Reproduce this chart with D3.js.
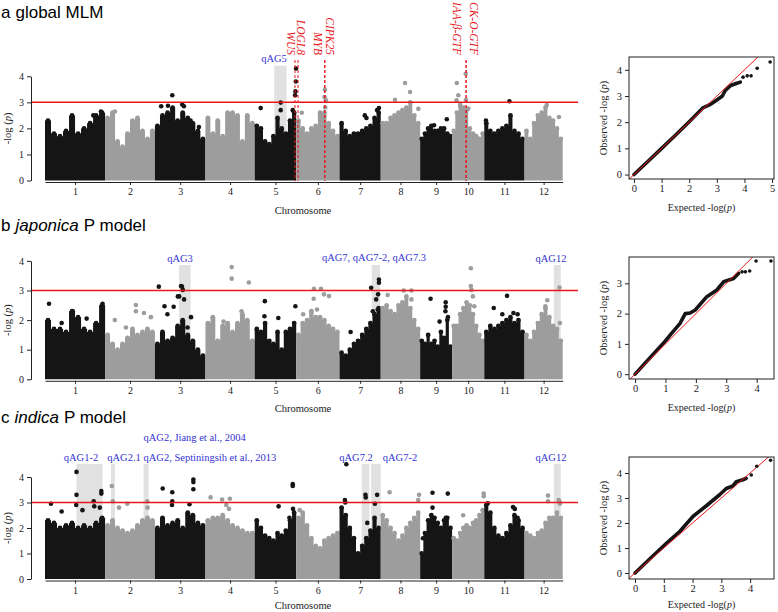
<!DOCTYPE html>
<html>
<head>
<meta charset="utf-8">
<script src="https://cdn.jsdelivr.net/npm/d3@7"></script>
<style>
  body { margin: 0; background: #fff; }
  svg { display: block; font-family: "Liberation Serif", "Times New Roman", serif; }
</style>
</head>
<body>
<svg id="chart" width="778" height="612"></svg>
<script>
// chromosome names and lengths (Mb)
var chromosomes = ["1", "2", "3", "4", "5", "6", "7", "8", "9", "10", "11", "12"];
var chrLength = [43.3, 35.9, 36.4, 35.5, 29.9, 31.2, 29.7, 28.4, 23.0, 23.2, 29.0, 27.5];
var yTicks = [0, 1, 2, 3, 4];
var threshold = 3;

// upper edge of the dense cloud, 10 bins per chromosome (-log p)
var globalEnv = [
  [2.3, 1.8, 1.7, 1.9, 2.5, 1.8, 2.0, 2.2, 2.5, 2.6],
  [2.4, 2.6, 1.5, 1.3, 1.8, 2.3, 2.4, 1.9, 1.6, 1.9],
  [2.1, 2.5, 2.6, 2.8, 2.3, 2.6, 2.4, 2.2, 1.9, 1.6],
  [2.4, 1.8, 2.3, 1.7, 2.6, 2.6, 2.5, 1.5, 2.5, 2.2],
  [2.1, 2.0, 1.5, 1.4, 1.7, 2.4, 2.0, 1.8, 2.3, 2.6],
  [2.3, 2.0, 1.8, 2.0, 2.1, 2.6, 2.6, 2.2, 1.9, 1.7],
  [2.2, 1.9, 1.7, 1.8, 1.8, 1.9, 2.0, 2.1, 2.4, 2.6],
  [2.2, 2.2, 2.4, 2.5, 2.6, 2.7, 2.8, 3.0, 2.5, 2.2],
  [1.6, 1.8, 2.0, 2.1, 1.9, 1.9, 2.0, 2.0, 1.8, 1.7],
  [1.9, 2.6, 2.9, 2.8, 2.7, 2.0, 1.8, 1.7, 1.6, 1.8],
  [2.2, 1.9, 1.8, 1.9, 2.0, 2.1, 2.5, 1.9, 1.8, 1.6],
  [1.9, 1.6, 2.2, 2.5, 2.6, 2.8, 2.4, 2.3, 2.0, 1.6]
];
// single markers standing out: [chromosome, Mb, -log p]
var globalPeaks = [
  [1, 34.8, 2.5], [1, 40.3, 2.65], [2, 7.1, 2.65], [3, 4.5, 2.85], [3, 9.4, 2.87],
  [3, 12.5, 3.27], [3, 19.7, 2.92], [3, 20.9, 2.85], [3, 25.7, 2.3], [3, 31.7, 2.05],
  [5, 4.3, 2.78], [5, 18.7, 2.99], [5, 18.7, 2.7], [5, 27.4, 2.7], [5, 29.3, 3.42],
  [5, 29.1, 3.27], [5, 29.8, 4.3], [5, 29.6, 3.8], [6, 4.0, 2.6], [6, 20.7, 3.49],
  [6, 21.4, 3.08], [6, 20.4, 3.2], [6, 20.9, 2.8], [7, 18.2, 2.5], [7, 19.4, 2.4],
  [7, 27.1, 2.7], [7, 28.4, 2.78], [8, 10.3, 3.1], [8, 17.5, 3.74], [8, 21.1, 3.4],
  [8, 27.1, 2.75], [9, 10.0, 2.12], [9, 19.2, 2.35], [10, 3.4, 3.74], [10, 4.5, 3.27],
  [10, 3.2, 3.08], [10, 6.2, 2.82], [10, 9.8, 4.1], [10, 10.0, 3.1], [10, 11.7, 2.76],
  [11, 1.2, 2.3], [11, 18.1, 3.04], [12, 16.0, 2.9], [12, 24.8, 2.44]
];

var japonicaEnv = [
  [2.0, 1.7, 1.7, 1.6, 2.3, 2.1, 1.7, 1.6, 1.9, 2.5],
  [1.5, 1.2, 1.0, 1.2, 1.4, 1.7, 1.5, 1.6, 1.7, 1.6],
  [1.2, 1.6, 1.3, 1.4, 1.8, 2.0, 1.5, 1.3, 1.0, 0.8],
  [1.9, 2.1, 1.3, 1.8, 1.9, 1.6, 1.9, 2.2, 2.0, 1.3],
  [1.7, 1.6, 1.9, 1.3, 1.2, 1.6, 1.0, 1.6, 1.7, 1.9],
  [1.5, 1.9, 2.0, 2.3, 2.1, 2.1, 2.0, 1.8, 1.7, 1.6],
  [0.9, 0.8, 1.0, 1.2, 1.3, 1.5, 1.7, 1.9, 2.2, 2.4],
  [2.4, 2.5, 2.3, 2.2, 2.5, 2.6, 2.8, 2.4, 2.0, 1.7],
  [1.3, 1.2, 1.5, 1.2, 1.3, 1.1, 1.6, 1.4, 2.0, 1.1],
  [1.8, 1.8, 2.2, 2.4, 2.6, 2.5, 2.2, 1.8, 1.5, 1.3],
  [1.6, 1.8, 1.7, 1.8, 1.9, 2.0, 2.1, 1.9, 2.0, 1.6],
  [1.5, 1.3, 1.6, 1.9, 2.2, 2.4, 2.1, 1.8, 1.7, 1.3]
];
var japonicaPeaks = [
  [1, 2.9, 2.55], [1, 20, 2.3], [1, 41.5, 2.55], [1, 12, 1.9], [1, 30, 2.05],
  [2, 7, 2.0], [2, 22.2, 2.51], [2, 22.2, 2.3], [2, 28, 2.24], [2, 33, 2.1], [2, 15, 1.75],
  [3, 2.8, 3.13], [3, 6.9, 2.47], [3, 9, 2.2], [3, 13.5, 2.45], [3, 16.5, 2.8], [3, 17.5, 2.8],
  [3, 18.8, 3.15], [3, 19.5, 3.13], [3, 20.1, 3.02], [3, 21, 2.7], [3, 26, 2.1], [3, 23.5, 1.75],
  [4, 18.9, 3.79], [4, 18.9, 3.4], [4, 31.3, 3.27], [4, 13, 1.95], [4, 26, 2.3],
  [5, 7.3, 2.64], [5, 7, 2.13], [5, 17, 2.07], [5, 29.3, 2.47],
  [6, 12.8, 3.06], [6, 12.6, 2.72], [6, 17.8, 3.06], [6, 15, 2.36], [6, 20, 2.87], [6, 23.6, 2.81], [6, 5, 2.2],
  [7, 22.8, 3.09], [7, 28.4, 3.37], [7, 28.4, 3.26], [7, 27.8, 2.87], [7, 26.4, 2.7], [7, 27.5, 2.36], [7, 24, 2.3], [7, 8, 1.6],
  [8, 16.6, 3.0], [8, 22.1, 3.0], [8, 5, 2.85], [8, 22.1, 2.7],
  [9, 7.5, 2.72], [9, 18.4, 2.6], [9, 18.4, 2.45], [9, 18.2, 2.3], [9, 14, 1.95], [9, 20, 2.1],
  [10, 13.5, 3.75], [10, 13.5, 3.15], [10, 14, 3.02], [10, 15, 2.8], [10, 16, 2.47],
  [11, 6.8, 2.41], [11, 16.4, 2.82], [11, 13, 2.2], [11, 21, 2.24], [11, 24, 2.2],
  [12, 16.4, 2.67], [12, 15, 2.47], [12, 25.2, 3.1], [12, 25.5, 1.9]
];

var indicaEnv = [
  [2.3, 2.2, 2.0, 2.1, 2.2, 2.0, 2.1, 2.0, 2.2, 2.4],
  [2.1, 2.3, 2.0, 1.9, 1.8, 1.9, 2.1, 2.3, 2.4, 2.3],
  [2.0, 2.4, 2.1, 2.2, 2.3, 2.0, 2.6, 2.5, 2.2, 2.1],
  [2.3, 2.4, 2.4, 2.5, 2.3, 2.1, 2.0, 1.9, 1.8, 1.8],
  [2.3, 2.0, 1.7, 1.6, 1.5, 1.8, 1.7, 1.9, 2.3, 2.6],
  [2.4, 2.6, 2.1, 1.6, 1.3, 1.2, 1.5, 1.6, 1.7, 1.8],
  [2.8, 2.5, 2.0, 1.6, 1.0, 1.3, 1.6, 1.9, 2.4, 2.0],
  [2.5, 2.3, 2.0, 1.8, 1.5, 1.7, 2.0, 2.2, 2.4, 2.6],
  [1.0, 1.8, 2.3, 2.5, 2.4, 2.2, 2.0, 2.3, 2.4, 2.0],
  [1.6, 1.5, 1.8, 2.0, 2.1, 2.0, 2.2, 2.3, 2.5, 2.7],
  [2.9, 2.6, 2.0, 1.7, 1.6, 1.8, 2.1, 2.5, 2.3, 2.0],
  [1.8, 1.7, 1.6, 1.8, 1.9, 2.2, 2.4, 2.4, 2.6, 2.4]
];
var indicaPeaks = [
  [1, 4.3, 2.95], [1, 22.7, 4.2], [1, 22.7, 3.3], [1, 22.5, 2.9], [1, 35.1, 3.05], [1, 35.5, 2.85],
  [1, 40.6, 3.45], [1, 40.6, 3.35], [1, 39.5, 2.8], [1, 12, 2.65], [1, 27, 2.7],
  [2, 4.8, 3.65], [2, 5.5, 3.05], [2, 10, 2.8], [2, 16, 2.95], [2, 30.4, 3.05], [2, 30.6, 2.8],
  [3, 5.6, 3.55], [3, 12.5, 3.4], [3, 12.5, 3.05], [3, 12.3, 2.9], [3, 24.9, 2.93],
  [3, 27.7, 3.9], [3, 27.7, 3.8], [3, 27.7, 3.52],
  [4, 3.7, 3.2], [4, 12, 3.12], [4, 17.6, 3.15], [4, 15, 2.9], [4, 17, 2.75],
  [5, 17.2, 2.85], [5, 27.4, 3.72], [5, 27.4, 3.65], [5, 27.6, 2.75], [5, 25, 2.4],
  [6, 2.5, 2.7],
  [7, 4.9, 4.5], [7, 3.9, 3.1], [7, 4.2, 3.0], [7, 18.7, 3.3], [7, 18.9, 3.2], [7, 27.1, 3.3], [7, 25.5, 2.95], [7, 20, 2.2],
  [8, 6.4, 3.4], [8, 27.6, 3.3], [8, 27, 3.1],
  [9, 8.9, 3.38], [9, 8.9, 2.8], [9, 19.9, 3.35], [9, 2, 1.6], [9, 18.5, 2.4],
  [10, 22.8, 3.35], [10, 22.8, 3.25], [10, 8, 2.5],
  [11, 2.5, 2.97], [11, 20.7, 2.82], [11, 22, 2.75], [11, 24, 2.4],
  [12, 16.9, 3.27], [12, 16.9, 3.05], [12, 24.6, 3.1], [12, 25.1, 3.05], [12, 25.5, 2.95]
];

// QTL regions: [chromosome, startMb, endMb]
var globalRegions = [[5, 14.1, 23.0]];
var japonicaRegions = [[3, 17.4, 25.7], [7, 23.2, 29.2], [12, 21.1, 26.1]];
var indicaRegions = [[1, 22.7, 41.5], [2, 4.3, 7.1], [2, 27.7, 31.3], [7, 16.0, 21.5], [7, 22.8, 29.7], [12, 21.1, 26.1]];

// candidate genes: [name, chromosome, Mb]
var genes = [["WUS", 5, 29.0], ["LOGL8", 6, 1.3], ["MYB", 6, 20.6], ["CIPK25", 6, 20.6],
             ["IAA-\u03b2-GTF", 10, 10.1], ["CK-O-GTF", 10, 10.1]];

// QQ plots: [expected, observed]
var qqGlobal = [[0, 0], [0.5, 0.5], [1, 1], [1.5, 1.5], [2, 2.02], [2.5, 2.55], [2.8, 2.7], [3.0, 2.85],
                [3.2, 3.0], [3.3, 3.2], [3.5, 3.4], [3.7, 3.48], [3.85, 3.53]];
var qqGlobalTail = [[3.95, 3.72], [4.1, 3.77], [4.24, 3.77], [4.46, 4.06], [4.93, 4.3]];
var qqJaponica = [[0, 0], [0.5, 0.55], [0.93, 1.02], [1.2, 1.35], [1.48, 1.68], [1.65, 2.0], [1.81, 2.02],
                  [1.98, 2.12], [2.36, 2.56], [2.69, 2.78], [2.91, 3.05], [3.24, 3.16], [3.41, 3.33]];
var qqJaponicaTail = [[3.52, 3.38], [3.63, 3.38], [3.77, 3.41], [3.98, 3.74], [4.47, 3.74]];
var qqIndica = [[0, 0], [0.5, 0.55], [1.1, 1.2], [1.56, 1.67], [2.02, 2.27], [2.48, 2.69], [2.94, 3.13],
                [3.17, 3.38], [3.4, 3.48], [3.52, 3.65], [3.75, 3.73], [3.86, 3.79]];
var qqIndicaTail = [[4.04, 3.92], [4.23, 4.27], [4.71, 4.51]];

var svg = d3.select("#chart");
var RED = "#e8161c", BLUE = "#3434d2", BLACK = "#151515", GREY = "#9d9d9d", SHADE = "#e1e1e1";
var intFormat = d3.format("d");

// genome x scale shared by the three panels
var chrOffset = chrLength.map(function (d, i) { return d3.sum(chrLength.slice(0, i)); });
var x = d3.scaleLinear().domain([0, d3.sum(chrLength)]).range([45, 562.7]);
function gx(c, mb) { return x(chrOffset[c - 1] + mb); }
function colorOf(c) { return c % 2 ? BLACK : GREY; }

function title(y, parts) {
    var t = svg.append("text").attr("x", 1).attr("y", y)
        .style("font-family", "'Liberation Sans', Arial, sans-serif").style("font-size", "17px");
    parts.forEach(function (p, i) {
        t.append("tspan").attr("dx", i ? 5 : 0).style("font-style", p[1] ? "italic" : "normal").text(p[0]);
    });
}

function logpLabel(sel, txt) {
    sel.append("tspan").text(txt + "(");
    sel.append("tspan").style("font-style", "italic").text("p");
    sel.append("tspan").text(")");
}

function manhattan(p) {
    var g = svg.append("g");
    var y = d3.scaleLinear().domain([0, 4]).range([p.base, p.top4]);
    // QTL shading
    g.selectAll("rect.shade").data(p.regions).enter().append("rect")
        .attr("x", function (d) { return gx(d[0], d[1]); })
        .attr("width", function (d) { return gx(d[0], d[2]) - gx(d[0], d[1]); })
        .attr("y", p.shadeTop).attr("height", p.base - p.shadeTop)
        .attr("fill", SHADE);
    // dense marker clouds
    var area = d3.area().curve(d3.curveStep).x(function (d) { return gx(d.c, d.mb); })
        .y0(y(0)).y1(function (d) { return y(d.v); });
    p.env.forEach(function (vals, i) {
        var c = i + 1, n = vals.length, L = chrLength[i];
        var pts = vals.map(function (v, k) { return { c: c, mb: (k + 0.5) / n * L, v: v }; });
        var edge = [{ c: c, mb: 0, v: vals[0] }].concat(pts, [{ c: c, mb: L, v: vals[n - 1] }]);
        g.append("path").attr("d", area(edge)).attr("fill", colorOf(c));
        g.selectAll(null).data(pts).enter().append("circle")
            .attr("cx", function (d) { return gx(d.c, d.mb); })
            .attr("cy", function (d) { return y(d.v); })
            .attr("r", 2.4).attr("fill", colorOf(c));
    });
    // single markers
    g.selectAll("circle.peak").data(p.peaks).enter().append("circle")
        .attr("cx", function (d) { return gx(d[0], d[1]); })
        .attr("cy", function (d) { return y(d[2]); })
        .attr("r", 2.3).attr("fill", function (d) { return colorOf(d[0]); });
    // threshold
    g.append("line").attr("x1", 31).attr("x2", 578)
        .attr("y1", y(threshold)).attr("y2", y(threshold))
        .attr("stroke", RED).attr("stroke-width", 1.5);
    // axes
    var ya = g.append("g").attr("transform", "translate(31,0)")
        .call(d3.axisLeft(y).tickValues(yTicks).tickFormat(intFormat).tickSize(4).tickSizeOuter(0).tickPadding(3));
    var centers = chrLength.map(function (L, i) { return gx(i + 1, L / 2); });
    var xs = d3.scaleLinear().domain([45, 562.7]).range([45, 562.7]);
    var xa = g.append("g").attr("transform", "translate(0," + (p.base + 1.5) + ")")
        .call(d3.axisBottom(xs).tickValues(centers).tickSize(3).tickSizeOuter(0).tickPadding(3)
            .tickFormat(function (d, i) { return chromosomes[i]; }));
    [ya, xa].forEach(function (a) {
        a.selectAll("text").style("font-family", "'Liberation Serif', serif").style("font-size", "10px").attr("fill", "#222");
        a.selectAll("line,path").attr("stroke", "#222");
    });
    g.append("text").attr("x", 303).attr("y", p.base + p.chromDy).attr("text-anchor", "middle")
        .style("font-size", "10.5px").attr("fill", "#222").text("Chromosome");
    var yl = g.append("text").attr("transform", "translate(10.5," + ((p.base + p.top4) / 2) + ") rotate(-90)")
        .attr("text-anchor", "middle").style("font-size", "10.5px").attr("fill", "#222");
    logpLabel(yl, "-log ");
    // QTL labels
    g.selectAll("text.qtl").data(p.labels).enter().append("text")
        .attr("x", function (d) { return d[1]; }).attr("y", function (d) { return d[2]; })
        .attr("text-anchor", function (d) { return d[3]; })
        .style("font-size", "10.5px").attr("fill", BLUE)
        .text(function (d) { return d[0]; });
    return y;
}

function qq(p) {
    var g = svg.append("g");
    var xs = d3.scaleLinear().domain(p.xDom).range([629, 774]);
    var ys = d3.scaleLinear().domain(p.yDom).range([p.bottom, p.top]);
    var clipId = "clip" + p.top;
    g.append("clipPath").attr("id", clipId).append("rect")
        .attr("x", 629).attr("y", p.top).attr("width", 145).attr("height", p.bottom - p.top);
    var lo = Math.min(p.xDom[0], p.yDom[0]), hi = Math.max(p.xDom[1], p.yDom[1]);
    var line = d3.line().x(function (d) { return xs(d[0]); }).y(function (d) { return ys(d[1]); });
    g.append("path").attr("d", line(p.body)).attr("fill", "none")
        .attr("stroke", BLACK).attr("stroke-width", 3.6).attr("stroke-linecap", "round").attr("stroke-linejoin", "round");
    g.append("line").attr("clip-path", "url(#" + clipId + ")")
        .attr("x1", xs(lo)).attr("y1", ys(lo)).attr("x2", xs(hi)).attr("y2", ys(hi))
        .attr("stroke", RED).attr("stroke-width", 1);
    g.selectAll("circle").data(p.tail).enter().append("circle")
        .attr("cx", function (d) { return xs(d[0]); }).attr("cy", function (d) { return ys(d[1]); })
        .attr("r", 1.8).attr("fill", BLACK);
    g.append("rect").attr("x", 629).attr("y", p.top).attr("width", 145).attr("height", p.bottom - p.top)
        .attr("fill", "none").attr("stroke", "#222").attr("stroke-width", 1);
    var ya = g.append("g").attr("transform", "translate(629,0)")
        .call(d3.axisLeft(ys).tickValues(p.yTicks).tickFormat(intFormat).tickSize(4).tickPadding(3));
    var xa = g.append("g").attr("transform", "translate(0," + p.bottom + ")")
        .call(d3.axisBottom(xs).tickValues(p.xTicks).tickFormat(intFormat).tickSize(4).tickPadding(2));
    [ya, xa].forEach(function (a) {
        a.select(".domain").remove();
        a.selectAll("text").style("font-family", "'Liberation Serif', serif").style("font-size", "10.5px").attr("fill", "#222");
        a.selectAll("line").attr("stroke", "#222");
    });
    var xl = g.append("text").attr("x", 701.5).attr("y", p.bottom + p.labelDy).attr("text-anchor", "middle")
        .style("font-size", "10px").attr("fill", "#222");
    logpLabel(xl, "Expected -log");
    var yl = g.append("text").attr("transform", "translate(606.5," + ((p.top + p.bottom) / 2) + ") rotate(-90)")
        .attr("text-anchor", "middle").style("font-size", "10.5px").attr("fill", "#222");
    logpLabel(yl, "Observed -log ");
}

// ---- panel a ----
title(18, [["a", false], ["global MLM", false]]);
manhattan({ base: 180.5, top4: 76.3, shadeTop: 65.7, chromDy: 33, env: globalEnv, peaks: globalPeaks,
    regions: globalRegions, labels: [["qAG5", 274, 62, "middle"]] });
// gene lines and names
var geneLabelX = [291.5, 301, 318.5, 330.5, 457, 474];
svg.append("g").selectAll("line").data(genes).enter().append("line")
    .attr("x1", function (d) { return gx(d[1], d[2]); }).attr("x2", function (d) { return gx(d[1], d[2]); })
    .attr("y1", 60).attr("y2", 181)
    .attr("stroke", RED).attr("stroke-width", 1).attr("stroke-dasharray", "3,2");
svg.append("g").selectAll("text").data(genes).enter().append("text")
    .attr("transform", function (d, i) { return "translate(" + geneLabelX[i] + ",55) rotate(90)"; })
    .attr("dy", "0.35em").attr("text-anchor", "end")
    .style("font-size", "11.5px").style("font-style", "italic").attr("fill", RED)
    .text(function (d) { return d[0]; });
qq({ top: 57, bottom: 179, labelDy: 31.5, xDom: [-0.18, 5.07], yDom: [-0.17, 4.49], xTicks: [0, 1, 2, 3, 4, 5], yTicks: [0, 1, 2, 3, 4],
     body: qqGlobal, tail: qqGlobalTail });

// ---- panel b ----
title(231, [["b", false], ["japonica", true], ["P model", false]]);
manhattan({ base: 379.3, top4: 260.9, shadeTop: 265, chromDy: 33, env: japonicaEnv, peaks: japonicaPeaks,
    regions: japonicaRegions,
    labels: [["qAG3", 180, 262, "middle"], ["qAG7, qAG7-2, qAG7.3", 374, 261, "middle"], ["qAG12", 551, 262, "middle"]] });
qq({ top: 257, bottom: 379, labelDy: 31.5, xDom: [-0.2, 4.57], yDom: [-0.16, 3.87], xTicks: [0, 1, 2, 3, 4], yTicks: [0, 1, 2, 3],
     body: qqJaponica, tail: qqJaponicaTail });

// ---- panel c ----
title(423, [["c", false], ["indica", true], ["P model", false]]);
manhattan({ base: 579, top4: 477, shadeTop: 464, chromDy: 29.5, env: indicaEnv, peaks: indicaPeaks,
    regions: indicaRegions,
    labels: [["qAG2, Jiang et al., 2004", 143.5, 441, "start"], ["qAG1-2", 81, 461, "middle"],
             ["qAG2.1", 124, 461, "middle"], ["qAG2, Septiningsih et al., 2013", 143.5, 461, "start"],
             ["qAG7.2", 356, 461, "middle"], ["qAG7-2", 400, 461, "middle"], ["qAG12", 551, 461, "middle"]] });
qq({ top: 457, bottom: 579, labelDy: 29, xDom: [-0.21, 4.83], yDom: [-0.24, 4.64], xTicks: [0, 1, 2, 3, 4], yTicks: [0, 1, 2, 3, 4],
     body: qqIndica, tail: qqIndicaTail });
</script>
</body>
</html>
